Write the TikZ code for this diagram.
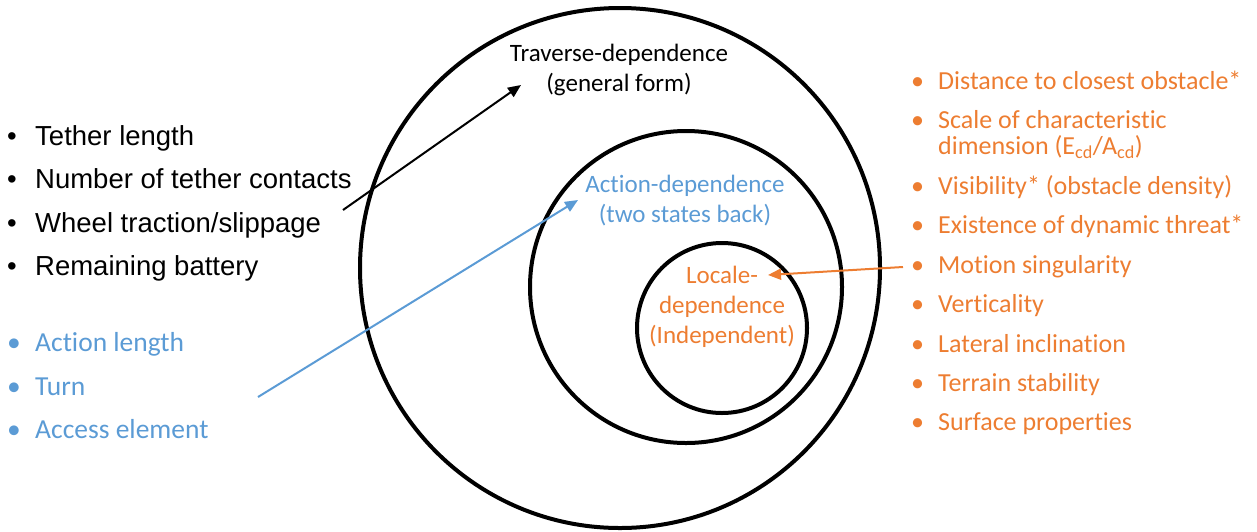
\documentclass[tikz,border=0pt]{standalone}
\usepackage{fontspec}
\setmainfont{Carlito}[Ligatures=NoCommon]
\newfontfamily\arialfont{Liberation Sans}
\usetikzlibrary{arrows.meta}
\definecolor{obl}{RGB}{91,155,213}
\definecolor{oor}{RGB}{237,125,49}
\begin{document}
\begin{tikzpicture}[x=1pt,y=-1pt,
  ring/.style={draw=black,line width=4pt},
  blackitem/.style={anchor=base west,inner sep=0pt,font=\arialfont\fontsize{27.5}{33}\selectfont,text=black},
  blueitem/.style={anchor=base west,inner sep=0pt,font=\fontsize{27.5}{33}\selectfont,text=obl},
  oritem/.style={anchor=base west,inner sep=0pt,font=\fontsize{26}{26}\selectfont,text=oor,align=left},
  lab/.style={inner sep=0pt,align=center,font=\fontsize{25}{30}\selectfont},
  conn/.style={line width=2pt,-{Triangle[length=13pt,width=11pt]}}
]
\useasboundingbox (0,0) rectangle (1257,531);
% rings
\draw[ring] (620,268) circle (260);
\draw[ring] (686,287) circle (156);
\draw[ring] (722,328) circle (85);
% center labels
\node[lab,text=black] (trav) at (619,70) {Traverse-dependence\\(general form)};
\node[lab,text=obl] (act) at (685,201) {Action-dependence\\(two states back)};
\node[lab,text=oor] (loc) at (722,307) {Locale-\\dependence\\(Independent)};
% left black list
\node[blackitem] (t1) at (7,145) {\makebox[28pt][l]{•}Tether length};
\node[blackitem] (t2) at (7,188.5) {\makebox[28pt][l]{•}Number of tether contacts};
\node[blackitem] (t3) at (7,232) {\makebox[28pt][l]{•}Wheel traction/slippage};
\node[blackitem] (t4) at (7,275.5) {\makebox[28pt][l]{•}Remaining battery};
% left blue list
\node[blueitem] (a1) at (7,351) {\makebox[28pt][l]{•}Action length};
\node[blueitem] (a2) at (7,395) {\makebox[28pt][l]{•}Turn};
\node[blueitem] (a3) at (7,438) {\makebox[28pt][l]{•}Access element};
% right orange list
\node[oritem] (o1) at (911,89) {\makebox[27pt][l]{•}Distance to closest obstacle*};
\node[oritem] (o2) at (911,154) {\makebox[27pt][l]{•}Scale of characteristic\\\hspace*{27pt}dimension (E\textsubscript{cd}/A\textsubscript{cd})};
\node[oritem] (o3) at (911,194) {\makebox[27pt][l]{•}Visibility* (obstacle density)};
\node[oritem] (o4) at (911,233) {\makebox[27pt][l]{•}Existence of dynamic threat*};
\node[oritem] (o5) at (911,273) {\makebox[27pt][l]{•}Motion singularity};
\node[oritem] (o6) at (911,312) {\makebox[27pt][l]{•}Verticality};
\node[oritem] (o7) at (911,352) {\makebox[27pt][l]{•}Lateral inclination};
\node[oritem] (o8) at (911,391) {\makebox[27pt][l]{•}Terrain stability};
\node[oritem] (o9) at (911,430) {\makebox[27pt][l]{•}Surface properties};
% connectors
\coordinate (bs) at (343,210);
\coordinate (be) at (521,85);
\coordinate (ls) at (258,397);
\coordinate (le) at (578,200);
\coordinate (os) at (903,267);
\coordinate (oe) at (768,275);
\draw[conn,black] (bs) -- (be);
\draw[conn,obl] (ls) -- (le);
\draw[conn,oor] (os) -- (oe);
\end{tikzpicture}
\end{document}
